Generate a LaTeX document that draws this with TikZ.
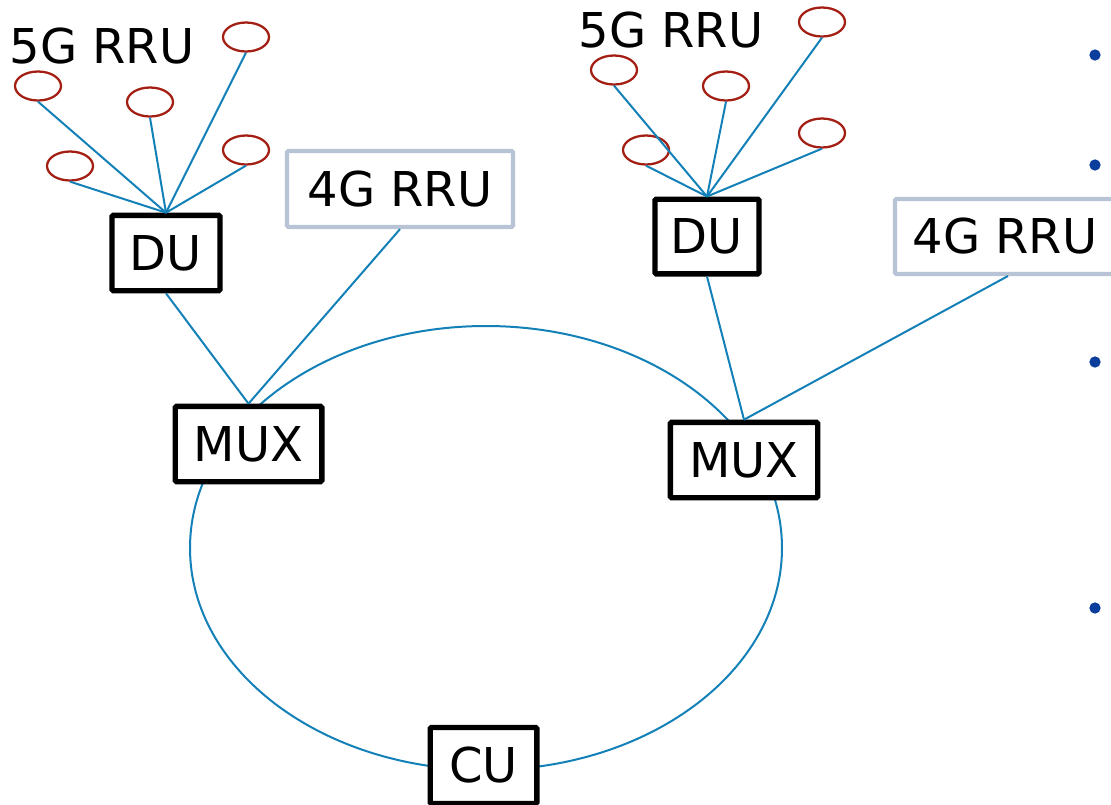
\documentclass[tikz,border=0pt]{standalone}
\usepackage{fontspec}
\setmainfont{DejaVu Sans}
\definecolor{linkblue}{HTML}{1380B8}
\definecolor{rrured}{HTML}{A31F14}
\definecolor{grayblue}{HTML}{B9C3D6}
\definecolor{bulletblue}{HTML}{0B3D9C}
\usetikzlibrary{shapes.geometric}
\tikzset{
  lbl/.style={font=\fontsize{36pt}{43pt}\selectfont, inner sep=0pt},
  blackbox/.style={lbl, draw=black, line width=4pt, fill=white, rounded corners=1pt},
  graybox/.style={lbl, draw=grayblue, line width=3.2pt, fill=white, rounded corners=1pt},
  rru/.style={draw=rrured, line width=1.7pt, ellipse, minimum width=34.5pt, minimum height=21.75pt, inner sep=0pt},
  link/.style={draw=linkblue, line width=1.5pt},
  bullet/.style={circle, fill=bulletblue, minimum size=8.5pt, inner sep=0pt}
}
\begin{document}
\begin{tikzpicture}[x=0.75pt, y=-0.75pt]
\useasboundingbox (0,0) rectangle (1111,804);
\clip (0,0) rectangle (1111,804);
% ring
\draw[link] (486,548) ellipse [x radius=222pt, y radius=166.5pt];
% boxes
\node[blackbox, minimum width=81pt, minimum height=56.5pt] (du1) at (166,253) {DU};
\node[blackbox, minimum width=78pt, minimum height=56pt] (du2) at (707,236.5) {DU};
\node[blackbox, minimum width=110pt, minimum height=56.5pt] (mux1) at (248.5,444) {MUX};
\node[blackbox, minimum width=110.5pt, minimum height=56.5pt] (mux2) at (744,460) {MUX};
\node[blackbox, minimum width=80pt, minimum height=57pt] (cu) at (483.5,765.5) {CU};
\node[graybox, minimum width=169.5pt, minimum height=57pt] (g1) at (400,189) {4G RRU};
\node[graybox, minimum width=202.5pt, minimum height=56.25pt] (g2) at (1030,236.5) {4G RRU\hspace*{37.5pt}};
\coordinate (g2b) at (1008,276);
% labels
\node[lbl] (t1) at (102,46) {5G RRU};
\node[lbl] (t2) at (671,30) {5G RRU};
% left RRUs
\node[rru] (a1) at (246,37) {};
\node[rru] (a2) at (38,86) {};
\node[rru] (a3) at (150,102) {};
\node[rru] (a4) at (246,150) {};
\node[rru] (a5) at (70,166) {};
% right RRUs
\node[rru] (b1) at (822,22) {};
\node[rru] (b2) at (614,70) {};
\node[rru] (b3) at (726,86) {};
\node[rru] (b4) at (822,133) {};
\node[rru] (b5) at (646,150) {};
% connectors
\foreach \e in {a1,a2,a3,a4,a5} \draw[link] (\e.south) -- (du1.north);
\foreach \e in {b1,b2,b3,b4,b5} \draw[link] (\e.south) -- (du2.north);
\draw[link] (du1.south) -- (mux1.north);
\draw[link] (g1.south) -- (mux1.north);
\draw[link] (du2.south) -- (mux2.north);
\draw[link] (g2b) -- (mux2.north);
% bullets
\node[bullet] (p1) at (1095,55) {};
\node[bullet] (p2) at (1095,165) {};
\node[bullet] (p3) at (1095,362) {};
\node[bullet] (p4) at (1095,608) {};
\end{tikzpicture}
\end{document}
